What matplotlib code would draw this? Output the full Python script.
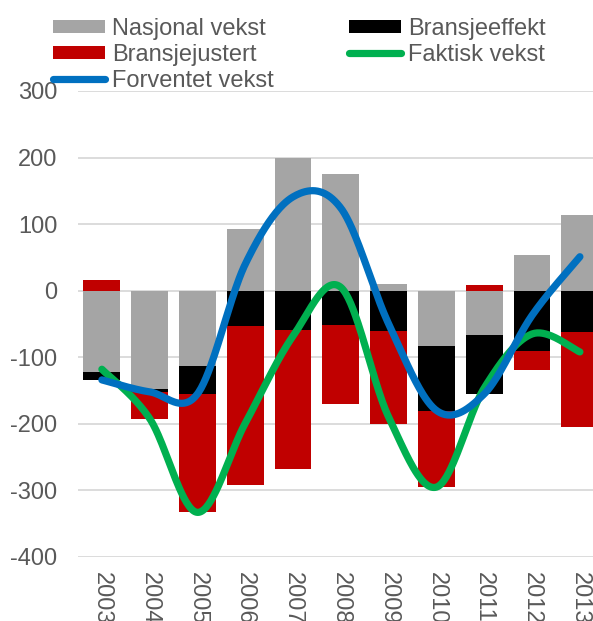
import numpy as np
import matplotlib.pyplot as plt

plt.rcParams['font.family'] = ['Liberation Sans', 'DejaVu Sans']
plt.rcParams['axes.unicode_minus'] = False

# Data
years = ['2003', '2004', '2005', '2006', '2007', '2008', '2009', '2010', '2011', '2012', '2013']
nasjonal = [-122, -148, -113, 93, 200, 175, 10, -83, -66, 54, 113]
bransjeeffekt = [-12, -4, -42, -53, -59, -51, -60, -97, -89, -91, -62]
bransjejustert = [16, -40, -178, -239, -209, -119, -140, -115, 9, -28, -143]
faktisk = [-118, -192, -333, -199, -68, 5, -190, -295, -146, -65, -92]
forventet = [-134, -152, -155, 40, 141, 124, -50, -180, -155, -37, 51]


def smooth(y, steps=40):
    # Catmull-Rom style curve through the points (like Excel's smoothed line)
    y = np.asarray(y, float)
    x = np.arange(len(y), dtype=float)
    px = np.concatenate([[x[0]], x, [x[-1]]])
    py = np.concatenate([[y[0]], y, [y[-1]]])
    xs, ys = [], []
    t = np.linspace(0, 1, steps)
    for i in range(1, len(px) - 2):
        p0 = np.array([px[i], py[i]])
        p3 = np.array([px[i + 1], py[i + 1]])
        p1 = p0 + (np.array([px[i + 1], py[i + 1]]) - np.array([px[i - 1], py[i - 1]])) / 6
        p2 = p3 - (np.array([px[i + 2], py[i + 2]]) - np.array([px[i], py[i]])) / 6
        b = ((1 - t) ** 3)[:, None] * p0 + (3 * (1 - t) ** 2 * t)[:, None] * p1 \
            + (3 * (1 - t) * t ** 2)[:, None] * p2 + (t ** 3)[:, None] * p3
        xs.append(b[:, 0])
        ys.append(b[:, 1])
    return np.concatenate(xs), np.concatenate(ys)


x = np.arange(len(years))
fig = plt.figure(figsize=(5.93, 6.21), dpi=100)
ax = fig.add_axes([0.1315, 0.1031, 0.8867, 0.7504])

pos = np.zeros(len(years))
neg = np.zeros(len(years))
bars = {}
for vals, color, label in [(nasjonal, '#A5A5A5', 'Nasjonal vekst'),
                           (bransjeeffekt, '#000000', 'Bransjeeffekt'),
                           (bransjejustert, '#C00000', 'Bransjejustert')]:
    vals = np.array(vals, float)
    bottom = np.where(vals >= 0, pos, neg)
    bars[label] = ax.bar(x, vals, 0.77, bottom=bottom, color=color, label=label, zorder=2)
    pos += np.where(vals >= 0, vals, 0)
    neg += np.where(vals < 0, vals, 0)

gx, gy = smooth(faktisk)
l_fak, = ax.plot(gx, gy, color='#00B050', lw=5.2, solid_capstyle='round', zorder=3, label='Faktisk vekst')
bx, by = smooth(forventet)
l_for, = ax.plot(bx, by, color='#0070C0', lw=5.2, solid_capstyle='round', zorder=4, label='Forventet vekst')

ax.set_xlim(-0.5, len(years) - 0.5)
ax.set_ylim(-400, 300)
ax.set_yticks(range(-400, 301, 100))
ax.set_xticks(x)
ax.set_xticklabels(years, rotation=-90, ha='center', va='top')
ax.yaxis.grid(True, color='#D9D9D9', lw=1.3)
ax.set_axisbelow(True)
for s in ax.spines.values():
    s.set_visible(False)
ax.tick_params(length=0, labelsize=17, colors='#595959')
ax.tick_params(axis='y', pad=15)
ax.tick_params(axis='x', pad=11)

handles = [bars['Nasjonal vekst'], bars['Bransjejustert'], l_for, bars['Bransjeeffekt'], l_fak]
labels = ['Nasjonal vekst', 'Bransjejustert', 'Forventet vekst', 'Bransjeeffekt', 'Faktisk vekst']
leg = fig.legend(handles, labels, loc='upper left', bbox_to_anchor=(53 / 593, 1 - 18 / 621),
                 ncol=2, frameon=False, fontsize=17, handlelength=2.2, handleheight=0.5,
                 handletextpad=0.3, columnspacing=3.2, labelspacing=0.17,
                 borderpad=0, borderaxespad=0)
for t in leg.get_texts():
    t.set_color('#595959')

fig.savefig('out.png', dpi=100)
